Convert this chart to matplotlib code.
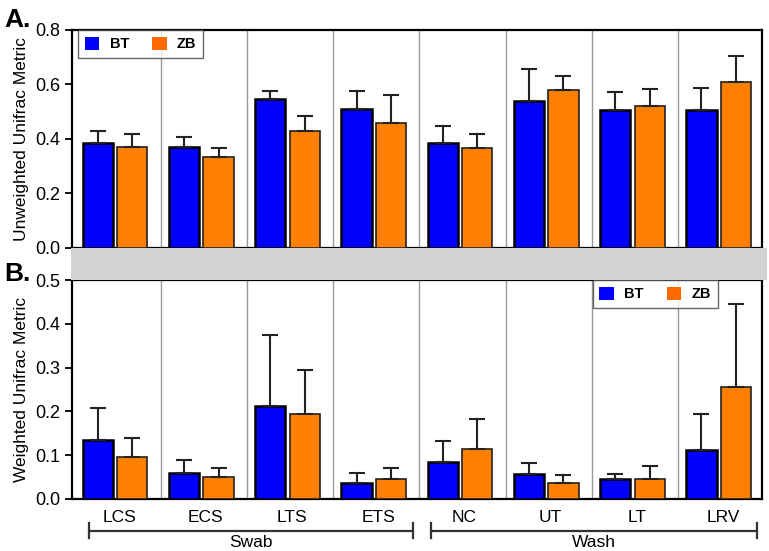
import matplotlib.pyplot as plt
import matplotlib.transforms as mtransforms
from matplotlib.patches import Rectangle, Patch
import numpy as np

plt.rcParams['font.family'] = ['Liberation Sans', 'DejaVu Sans']

# datos
sitios = ["LCS", "ECS", "LTS", "ETS", "NC", "UT", "LT", "LRV"]

unw_bt = [0.385, 0.370, 0.545, 0.510, 0.385, 0.540, 0.505, 0.505]
unw_bt_err = [0.043, 0.037, 0.032, 0.067, 0.062, 0.117, 0.067, 0.082]
unw_zb = [0.370, 0.335, 0.428, 0.460, 0.365, 0.580, 0.520, 0.610]
unw_zb_err = [0.047, 0.032, 0.057, 0.103, 0.052, 0.052, 0.065, 0.093]

w_bt = [0.135, 0.060, 0.212, 0.037, 0.085, 0.057, 0.045, 0.112]
w_bt_err = [0.072, 0.030, 0.163, 0.023, 0.047, 0.025, 0.013, 0.081]
w_zb = [0.095, 0.050, 0.193, 0.046, 0.113, 0.036, 0.046, 0.255]
w_zb_err = [0.045, 0.021, 0.102, 0.024, 0.069, 0.019, 0.029, 0.190]

grupos = ["Swab", "Wash"]
azul = "#0000ff"
naranja = "#ff8000"

fig = plt.figure(figsize=(7.69, 5.51), dpi=100)
axA = fig.add_axes([0.0936, 0.55, 0.897, 0.3956])
axB = fig.add_axes([0.0936, 0.0944, 0.897, 0.3974])

# franja gris entre los paneles
fig.patches.append(Rectangle((0.0925, 0.492), 0.9045, 0.058, transform=fig.transFigure,
                             facecolor="#d3d3d3", edgecolor="none", zorder=0))

x = np.arange(len(sitios))
ancho = 0.35


def panel(ax, bt, bt_err, zb, zb_err, ymax, paso, etiqueta):
    ax.bar(x - 0.2, bt, ancho, color=azul, edgecolor="black", linewidth=1.8,
           yerr=[np.zeros(len(bt)), bt_err], error_kw=dict(ecolor="#222222", elinewidth=1.5,
                                                           capsize=6, capthick=1.5),
           zorder=3)
    ax.bar(x + 0.2, zb, ancho, color=naranja, edgecolor="#222222", linewidth=1.2,
           yerr=[np.zeros(len(zb)), zb_err], error_kw=dict(ecolor="#222222", elinewidth=1.5,
                                                           capsize=6, capthick=1.5),
           zorder=3)
    for s in range(1, len(sitios)):
        ax.axvline(s - 0.47, color="#999999", linewidth=1.0, zorder=1)
    ax.set_xlim(-0.5, 7.5)
    ax.set_ylim(0, ymax)
    ax.set_yticks(np.arange(0, ymax + 0.001, paso))
    ax.yaxis.set_major_formatter(plt.FormatStrFormatter("%.1f"))
    ax.tick_params(axis="y", labelsize=13, length=5, width=1.3, direction="out")
    ax.set_ylabel(etiqueta, fontsize=12.5, labelpad=4)
    for sp in ax.spines.values():
        sp.set_linewidth(1.6)
        sp.set_color("black")


panel(axA, unw_bt, unw_bt_err, unw_zb, unw_zb_err, 0.8, 0.2, "Unweighted Unifrac Metric")
panel(axB, w_bt, w_bt_err, w_zb, w_zb_err, 0.5, 0.1, "Weighted Unifrac Metric")

axA.set_xticks([])
axB.set_xticks(x + 0.05)
axB.set_xticklabels(sitios, fontsize=12.5)
axB.tick_params(axis="x", length=0, pad=8)

manijas = [Patch(facecolor=azul, edgecolor="none", label="BT"),
           Patch(facecolor="#ff6a00", edgecolor="none", label="ZB")]
for ax, xl in ((axA, 0.009), (axB, 0.755)):
    leg = ax.legend(handles=manijas, loc="upper left", bbox_to_anchor=(xl, 1.0), ncol=2,
                    frameon=True, fancybox=False, edgecolor="#444444", handlelength=1.0,
                    handleheight=1.0, handletextpad=0.7, columnspacing=1.6, borderpad=0.45,
                    borderaxespad=0.0, prop=dict(weight="bold", size=10.5))
    leg.get_frame().set_linewidth(1.0)

# corchetes de Swab y Wash
tr = mtransforms.blended_transform_factory(axB.transData, axB.transAxes)
tramos = [(-0.3, 3.45), (3.66, 7.44)]
for nombre, (a, b) in zip(grupos, tramos):
    axB.plot([a, b], [-0.146, -0.146], color="#333333", linewidth=1.6, transform=tr, clip_on=False)
    for xx in (a, b):
        axB.plot([xx, xx], [-0.11, -0.18], color="#333333", linewidth=1.6, transform=tr, clip_on=False)
    axB.text((a + b) / 2, -0.2, nombre, transform=tr, ha="center", va="center", fontsize=12.5)

fig.text(0.006, 0.985, "A.", fontsize=19, fontweight="bold", va="top", ha="left")
fig.text(0.006, 0.525, "B.", fontsize=19, fontweight="bold", va="top", ha="left")

fig.savefig("out.png", dpi=100)
